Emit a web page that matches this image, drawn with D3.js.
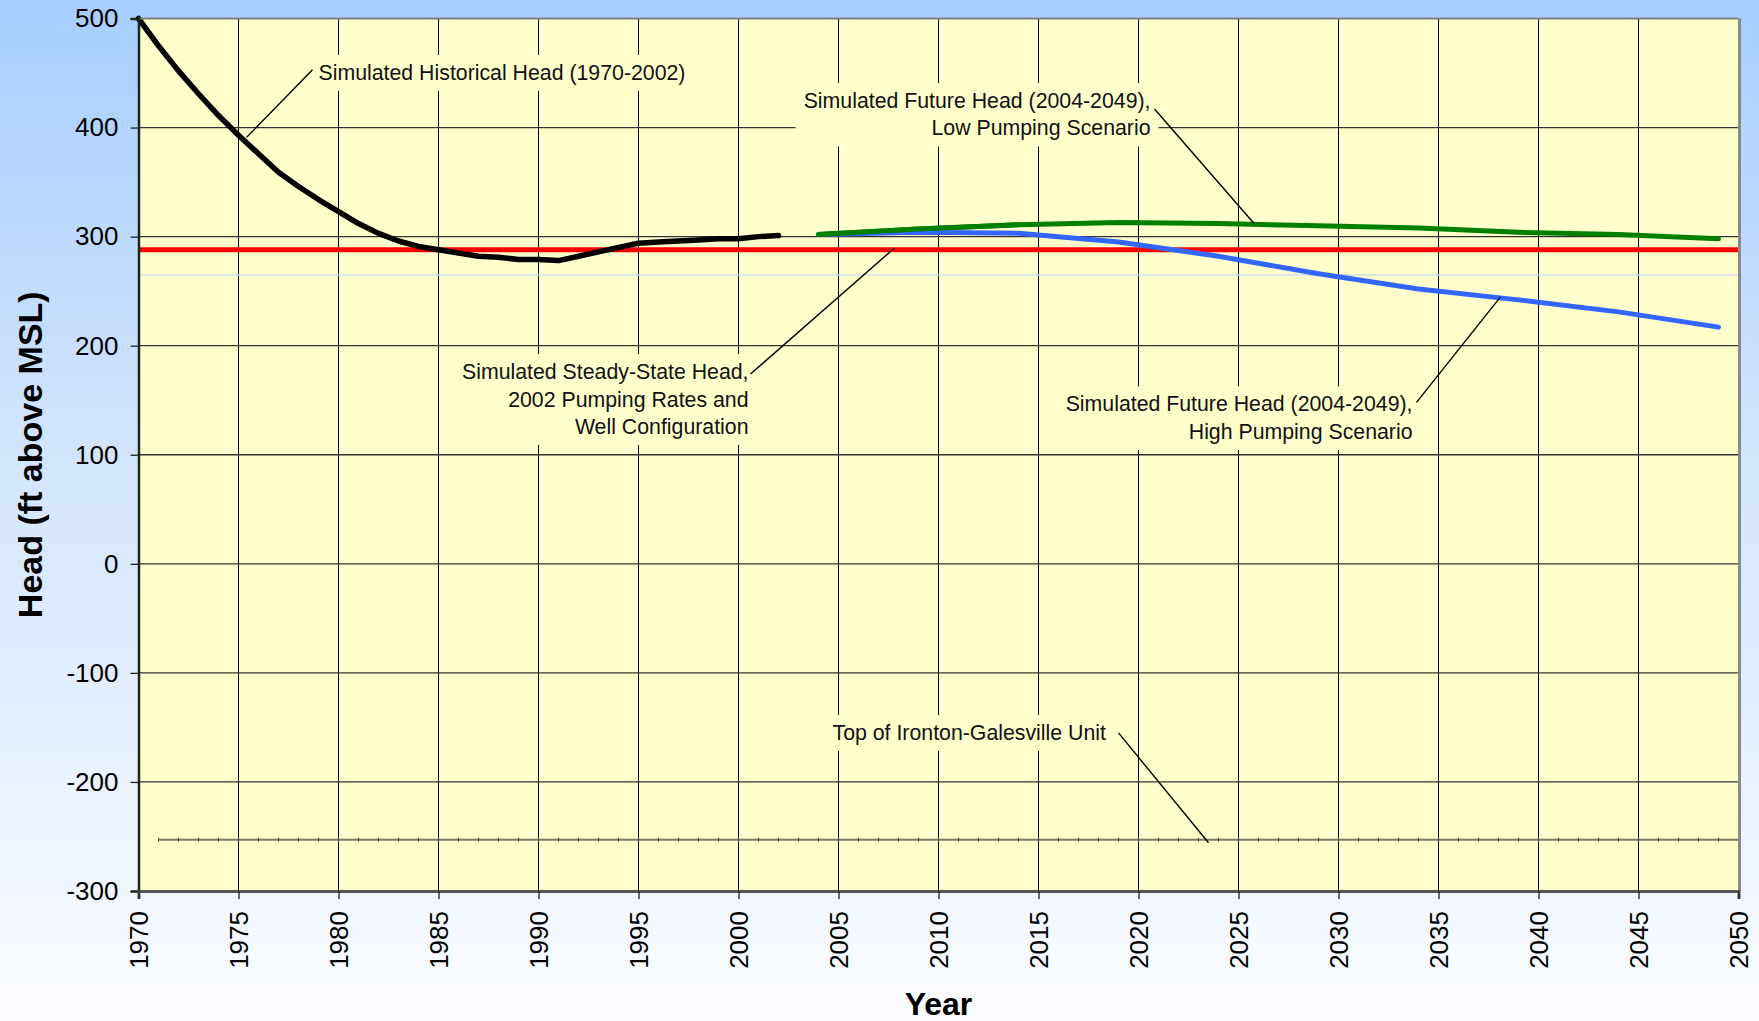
<!DOCTYPE html>
<html>
<head>
<meta charset="utf-8">
<script src="https://cdn.jsdelivr.net/npm/d3@7"></script>
<style>
  body { margin: 0; background: #fff; }
  svg { display: block; font-family: "Liberation Sans", Arial, sans-serif; }
</style>
</head>
<body>
<div id="chart"></div>
<script>
// Donnees
var historicalYears = [1970, 1971, 1972, 1973, 1974, 1975, 1976, 1977, 1978, 1979, 1980,
  1981, 1982, 1983, 1984, 1985, 1986, 1987, 1988, 1989, 1990, 1991, 1992, 1993, 1994,
  1995, 1996, 1997, 1998, 1999, 2000, 2001, 2002];
var historicalHead = [500, 475, 452, 431, 411, 393, 376, 359, 346, 334, 323,
  312, 303, 296, 291, 288, 285, 282, 281, 279, 279, 278, 282, 286, 290,
  294, 295, 296, 297, 298, 298, 300, 301];

var futureYears = [2004, 2009, 2014, 2019, 2024, 2029, 2034, 2039, 2044, 2049];
var lowPumpingHead = [302, 307, 311, 313, 312, 310, 308, 304, 302, 298];
var highPumpingHead = [302, 304, 303, 295, 282, 266, 252, 242, 231, 217];

var steadyStateHead = 288;
var paleReferenceHead = 265;
var irontonTopHead = -253;
var irontonYears = d3.range(1971, 2051);

var xTicks = d3.range(1970, 2051, 5);
var yTicks = d3.range(-300, 501, 100);

// Annotations (positions en unites du graphique)
var annotations = [
  { lines: ["Simulated Historical Head (1970-2002)"], anchor: "start", year: 1979, head: 443.6,
    leader: [[1978.7, 453], [1975.4, 391]] },
  { lines: ["Simulated Future Head (2004-2049),", "Low Pumping Scenario"], anchor: "end", year: 2020.6, head: 418,
    leader: [[2020.8, 417], [2025.8, 311.6]] },
  { lines: ["Simulated Steady-State Head,", "2002 Pumping Rates and", "Well Configuration"], anchor: "end", year: 2000.5, head: 169.4,
    leader: [[2000.6, 174], [2007.8, 289.6]] },
  { lines: ["Simulated Future Head (2004-2049),", "High Pumping Scenario"], anchor: "end", year: 2033.7, head: 139.7,
    leader: [[2033.9, 148], [2038.1, 244.7]] },
  { lines: ["Top of Ironton-Galesville Unit"], anchor: "start", year: 2004.7, head: -161.5,
    leader: [[2019, -155], [2023.5, -255.8]] }
];

// Dimensions
var largeur = 1759, hauteur = 1021;
var marge = { haut: 18.5, droite: 20.5, bas: 130, gauche: 138.5 };

var svg = d3.select("#chart").append("svg")
  .attr("width", largeur).attr("height", hauteur);

// Fond degrade
var defs = svg.append("defs");
var degrade = defs.append("linearGradient").attr("id", "fond")
  .attr("x1", 0).attr("y1", 0).attr("x2", 0).attr("y2", 1);
degrade.append("stop").attr("offset", "0%").attr("stop-color", "#a6ceff");
degrade.append("stop").attr("offset", "45%").attr("stop-color", "#d2e5fd");
degrade.append("stop").attr("offset", "100%").attr("stop-color", "#fbfcff");
svg.append("rect").attr("width", largeur).attr("height", hauteur).attr("fill", "url(#fond)");

// Echelles
var x = d3.scaleLinear().domain([1970, 2050]).range([marge.gauche, largeur - marge.droite]);
var y = d3.scaleLinear().domain([-300, 500]).range([hauteur - marge.bas, marge.haut]);

// Zone de trace
svg.append("rect")
  .attr("x", x(1970)).attr("y", y(500))
  .attr("width", x(2050) - x(1970)).attr("height", y(-300) - y(500))
  .attr("fill", "#ffffcc");

// Grille
var grille = svg.append("g");
grille.selectAll("line.gv").data(xTicks.slice(1, -1)).enter().append("line")
  .attr("class", "gv")
  .attr("x1", function (d) { return x(d); }).attr("x2", function (d) { return x(d); })
  .attr("y1", y(500)).attr("y2", y(-300))
  .attr("stroke", "#000").attr("stroke-width", 1);
grille.selectAll("line.gh").data(yTicks.slice(1, -1)).enter().append("line")
  .attr("class", "gh")
  .attr("x1", x(1970)).attr("x2", x(2050))
  .attr("y1", function (d) { return y(d); }).attr("y2", function (d) { return y(d); })
  .attr("stroke", "#333").attr("stroke-width", 1.3);

// Ligne pale
svg.append("line")
  .attr("x1", x(1970)).attr("x2", x(2050))
  .attr("y1", y(paleReferenceHead)).attr("y2", y(paleReferenceHead))
  .attr("stroke", "#c6dcf2").attr("stroke-width", 1.2);

// Toit de l'unite Ironton-Galesville
svg.append("line")
  .attr("x1", x(irontonYears[0])).attr("x2", x(2050))
  .attr("y1", y(irontonTopHead)).attr("y2", y(irontonTopHead))
  .attr("stroke", "#7a7a66").attr("stroke-width", 2);
svg.append("g").selectAll("line").data(irontonYears).enter().append("line")
  .attr("x1", function (d) { return x(d); }).attr("x2", function (d) { return x(d); })
  .attr("y1", y(irontonTopHead) - 2).attr("y2", y(irontonTopHead) + 2)
  .attr("stroke", "#444").attr("stroke-width", 1);

// Etiquettes
var etiquettes = svg.append("g").selectAll("g.etiquette").data(annotations).enter().append("g")
  .attr("class", "etiquette");
etiquettes.each(function (d) {
  var g = d3.select(this);
  var texte = g.append("text")
    .attr("x", x(d.year)).attr("y", y(d.head))
    .attr("text-anchor", d.anchor)
    .attr("font-size", 21.3).attr("fill", "#111");
  texte.selectAll("tspan").data(d.lines).enter().append("tspan")
    .attr("x", x(d.year))
    .attr("dy", function (l, i) { return i === 0 ? 0 : 27.5; })
    .text(function (l) { return l; });
  var b = texte.node().getBBox();
  g.insert("rect", "text")
    .attr("x", b.x - 8).attr("y", b.y - 6)
    .attr("width", b.width + 16).attr("height", b.height + 12)
    .attr("fill", "#ffffcc");
});

// Tete en regime permanent
svg.append("line")
  .attr("x1", x(1970)).attr("x2", x(2050))
  .attr("y1", y(steadyStateHead)).attr("y2", y(steadyStateHead))
  .attr("stroke", "#ff0000").attr("stroke-width", 5);

// Courbes
var ligne = d3.line()
  .x(function (d) { return x(d[0]); })
  .y(function (d) { return y(d[1]); });

var series = [
  { annees: futureYears, valeurs: lowPumpingHead, couleur: "#008000" },
  { annees: futureYears, valeurs: highPumpingHead, couleur: "#3366ff" },
  { annees: historicalYears, valeurs: historicalHead, couleur: "#000000" }
];
svg.append("g").selectAll("path").data(series).enter().append("path")
  .attr("d", function (s) { return ligne(d3.zip(s.annees, s.valeurs)); })
  .attr("fill", "none")
  .attr("stroke", function (s) { return s.couleur; })
  .attr("stroke-width", function (s) { return s.couleur === "#000000" ? 5.5 : 5; })
  .attr("stroke-linejoin", "round")
  .attr("stroke-linecap", "round");
// la courbe basse est tracee apres la haute au depart
svg.append("path")
  .attr("d", ligne(d3.zip(futureYears.slice(0, 3), lowPumpingHead.slice(0, 3))))
  .attr("fill", "none").attr("stroke", "#008000").attr("stroke-width", 5)
  .attr("stroke-linecap", "round");

// Traits de rappel
svg.append("g").selectAll("line").data(annotations).enter().append("line")
  .attr("x1", function (d) { return x(d.leader[0][0]); })
  .attr("y1", function (d) { return y(d.leader[0][1]); })
  .attr("x2", function (d) { return x(d.leader[1][0]); })
  .attr("y2", function (d) { return y(d.leader[1][1]); })
  .attr("stroke", "#000").attr("stroke-width", 1.4);

// Cadre
svg.append("line")
  .attr("x1", x(1970)).attr("x2", x(2050)).attr("y1", y(500)).attr("y2", y(500))
  .attr("stroke", "#808080").attr("stroke-width", 2);
svg.append("line")
  .attr("x1", x(2050) + 1).attr("x2", x(2050) + 1).attr("y1", y(500)).attr("y2", y(-300))
  .attr("stroke", "#8a8a8a").attr("stroke-width", 3);

// Axes
var axeY = svg.append("g")
  .attr("transform", "translate(" + x(1970) + ",0)")
  .call(d3.axisLeft(y).tickValues(yTicks).tickFormat(function (d) { return String(d); })
    .tickSize(8).tickPadding(12));
axeY.select(".domain").attr("stroke", "#222").attr("stroke-width", 2.5);
axeY.selectAll(".tick line").attr("stroke", "#222").attr("stroke-width", 1.3);
axeY.selectAll(".tick text")
  .attr("font-size", 26).attr("font-family", "Liberation Sans, Arial, sans-serif").attr("fill", "#000");

var axeX = svg.append("g")
  .attr("transform", "translate(0," + y(-300) + ")")
  .call(d3.axisBottom(x).tickValues(xTicks).tickFormat(function (d) { return String(d); }).tickSize(8));
axeX.select(".domain").attr("stroke", "#555").attr("stroke-width", 3);
axeX.selectAll(".tick line").attr("stroke", "#222").attr("stroke-width", 1.3);
axeX.selectAll(".tick text")
  .attr("font-size", 26).attr("font-family", "Liberation Sans, Arial, sans-serif").attr("fill", "#000")
  .attr("transform", "rotate(-90)")
  .attr("text-anchor", "end")
  .attr("x", -20).attr("y", 0).attr("dy", "0.35em");

// Titres des axes
svg.append("text")
  .attr("x", (x(1970) + x(2050)) / 2).attr("y", 1015)
  .attr("text-anchor", "middle")
  .attr("font-size", 32).attr("font-weight", "bold")
  .text("Year");
svg.append("text")
  .attr("transform", "translate(42," + (y(500) + y(-300)) / 2 + ") rotate(-90)")
  .attr("text-anchor", "middle")
  .attr("font-size", 34).attr("font-weight", "bold")
  .text("Head (ft above MSL)");
</script>
</body>
</html>
